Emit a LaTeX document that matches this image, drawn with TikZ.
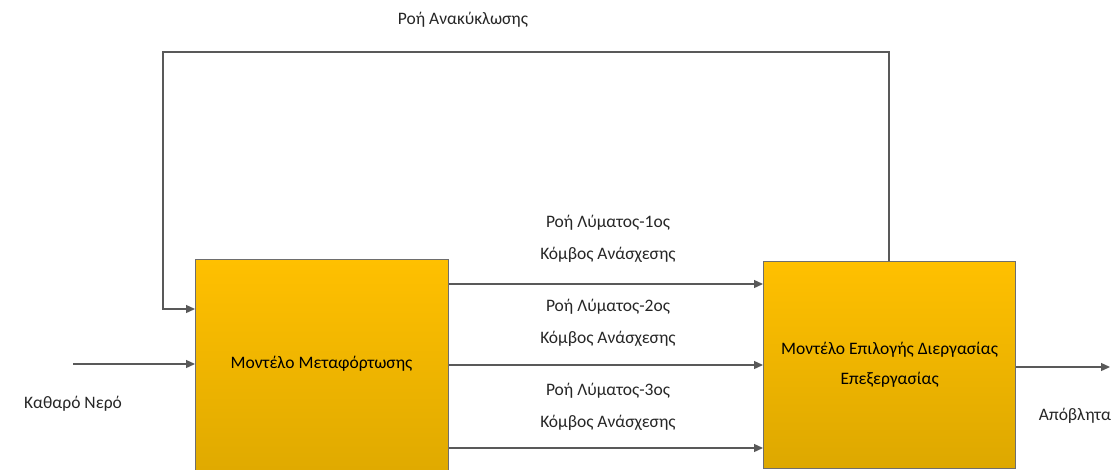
\documentclass[tikz,border=0pt]{standalone}
\usepackage{fontspec}
\setmainfont{Carlito}
\usetikzlibrary{arrows.meta}
\definecolor{linegray}{HTML}{595959}
\definecolor{boxtop}{HTML}{FFC000}
\definecolor{boxbot}{HTML}{DDA800}
\definecolor{boxedge}{HTML}{6E6E6E}
\tikzset{
  x=1pt, y=-1pt,
  model/.style={draw=boxedge, line width=1.2pt, top color=boxtop, bottom color=boxbot,
    anchor=north west, inner sep=0pt, align=center, font=\fontsize{17.5}{30}\selectfont},
  flow/.style={draw=linegray, line width=1.3pt, -{Triangle[length=9pt,width=8pt]}},
  lbl/.style={font=\fontsize{17.5}{32}\selectfont, text=black!85, align=center}
}
\begin{document}
\begin{tikzpicture}
\useasboundingbox (0,0) rectangle (1112,469);
\clip (0,0) rectangle (1112,469);
% model boxes
\node[model, minimum width=253pt, minimum height=230pt] (trans) at (195,259) {};
\node[font=\fontsize{17.5}{30}\selectfont] (transtxt) at (321.5,364) {Μοντέλο Μεταφόρτωσης};
\node[model, minimum width=252pt, minimum height=207pt] (proc) at (763,261)
  {Μοντέλο Επιλογής Διεργασίας\\Επεξεργασίας};
% free ends
\coordinate (inlet) at (73,364);
\coordinate (outlet) at (1110,367);
\coordinate (r1) at (889,52);
\coordinate (r2) at (163,52);
\coordinate (r3) at (163,309);
% connectors
\draw[flow] (inlet) -- (inlet -| trans.west);
\draw[flow] (proc.north -| r1) -- (r1) -- (r2) -- (r3) -- (r3 -| trans.west);
\draw[flow] (trans.east |- 0,284) -- (proc.west |- 0,284);
\draw[flow] (trans.east |- 0,365) -- (proc.west |- 0,365);
\draw[flow] (trans.east |- 0,448) -- (proc.west |- 0,448);
\draw[flow] (proc.east |- outlet) -- (outlet);
% labels
\node[lbl] (lrec) at (463,20) {Ροή Ανακύκλωσης};
\node[lbl] (l1) at (608,239) {Ροή Λύματος-1ος\\Κόμβος Ανάσχεσης};
\node[lbl] (l2) at (608,323) {Ροή Λύματος-2ος\\Κόμβος Ανάσχεσης};
\node[lbl] (l3) at (608,407) {Ροή Λύματος-3ος\\Κόμβος Ανάσχεσης};
\node[lbl] (lin) at (73,404) {Καθαρό Νερό};
\node[lbl] (lout) at (1075,416) {Απόβλητα};
\end{tikzpicture}
\end{document}
